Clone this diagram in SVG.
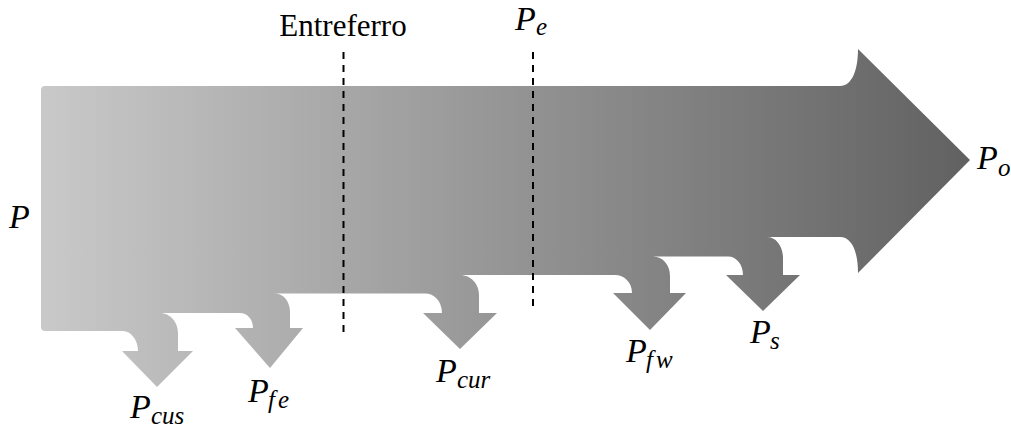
<svg xmlns="http://www.w3.org/2000/svg" width="1011" height="428" viewBox="0 0 1011 428">
  <defs>
    <linearGradient id="g" gradientUnits="userSpaceOnUse" x1="41" y1="0" x2="970" y2="0">
      <stop offset="0" stop-color="#c9c9c9"/>
      <stop offset="1" stop-color="#616161"/>
    </linearGradient>
  </defs>
  <style>
    text { font-family: "Liberation Serif", "Times New Roman", "DejaVu Serif", serif; fill: #000; }
    .lbl { font-style: italic; font-size: 34px; }
    .sub { font-size: 25px; }
    .title { font-size: 31px; }
    .dash { stroke: #000; stroke-width: 2; stroke-dasharray: 7 6; fill: none; }
  </style>
  <g id="flow">
    <path fill="url(#g)" d="M41,90 Q41,86 45,86 L840,86 C852,86 858,70 858,49 L970,160 L858,273 C858,252 852,237 840,237 L767,237 C776,237 783,246 783,258 L783,275 L800,275 L763,311 L726,275 L743,275 C743,264 736,256.5 728,256.5 L653,256.5 C663,256.5 670,265 670,276 L670,293 L686,293 L650,330 L613,293 L632,293 C632,282 624,275 615,275 L460,275 C471,275 479,284 479,295 L479,313 L497,313 L460,349 L423,313 L442,313 C442,301 434,293.5 425,293.5 L275,293.5 C284,293.5 290,302 290,312 L290,328 L303,328 L270,368 L235,328 L253,328 C253,319 247,313 240,313 L160,313 C170,313 178,322 178,333 L178,351 L193,351 L157,387 L122,351 L138,351 C138,340 131,331 123,331 L45,331 Q41,331 41,327 Z"/>
  </g>
  <g id="connectors">
    <line class="dash" x1="343.5" y1="52" x2="343.5" y2="332"/>
    <line class="dash" x1="533" y1="52" x2="533" y2="312"/>
  </g>
  <g id="entreferro">
    <text class="title" font-family="Liberation Serif, serif" x="343" y="36" text-anchor="middle">Entreferro</text>
  </g>
  <g id="P">
    <text class="lbl" x="9" y="228">P</text>
  </g>
  <g id="Pe">
    <text class="lbl" x="515" y="30">P<tspan class="sub" x="536" y="35">e</tspan></text>
  </g>
  <g id="Po">
    <text class="lbl" x="977" y="169">P<tspan class="sub" x="998" y="176">o</tspan></text>
  </g>
  <g id="Pcus">
    <text class="lbl" x="130" y="418">P<tspan class="sub" x="151" y="424">cus</tspan></text>
  </g>
  <g id="Pfe">
    <text class="lbl" x="248" y="402">P<tspan class="sub" x="268" y="408">f</tspan><tspan class="sub" x="278" y="408">e</tspan></text>
  </g>
  <g id="Pcur">
    <text class="lbl" x="436" y="382">P<tspan class="sub" x="457" y="388">cur</tspan></text>
  </g>
  <g id="Pfw">
    <text class="lbl" x="626" y="362">P<tspan class="sub" x="646" y="368">f</tspan><tspan class="sub" x="656" y="368">w</tspan></text>
  </g>
  <g id="Ps">
    <text class="lbl" x="750" y="343">P<tspan class="sub" x="770" y="349">s</tspan></text>
  </g>
</svg>
